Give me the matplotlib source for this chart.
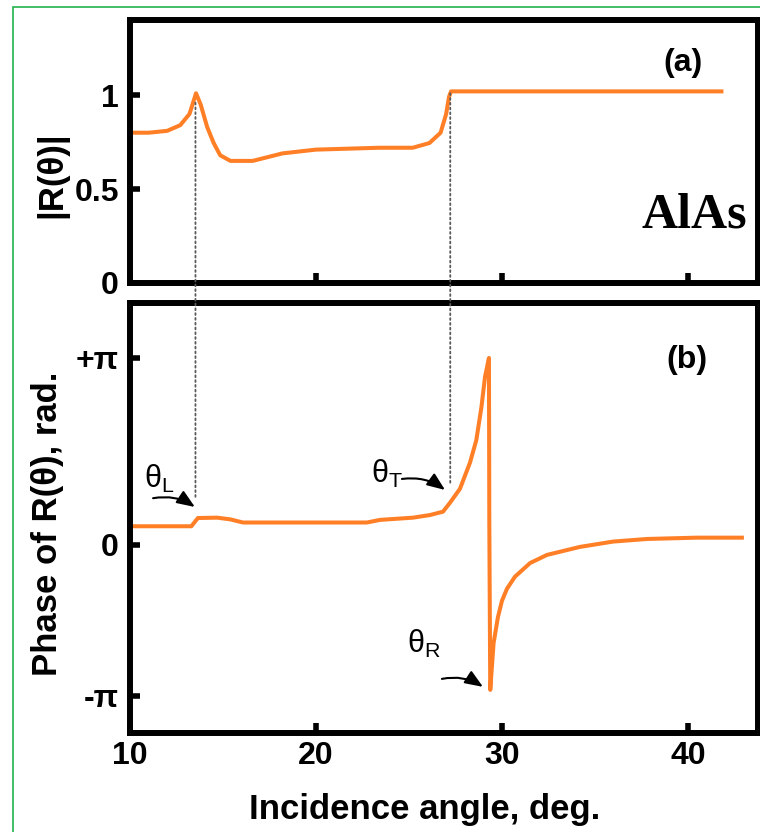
import numpy as np
import matplotlib
matplotlib.use("Agg")
import matplotlib.pyplot as plt
from matplotlib.patches import ConnectionPatch, Rectangle

plt.rcParams['font.family'] = ['Liberation Sans', 'DejaVu Sans']
plt.rcParams['font.weight'] = 'bold'
plt.rcParams['axes.labelweight'] = 'bold'

# |R(theta)|
angle_a = [10.0, 11.0, 12.0, 12.7, 13.2, 13.55, 13.8, 14.15, 14.5, 14.85, 15.4,
           16.6, 18.2, 20.0, 23.4, 25.2, 26.1, 26.7, 27.0, 27.15, 27.26, 41.8]
refl_mag = [0.80, 0.80, 0.81, 0.84, 0.90, 1.01, 0.95, 0.83, 0.745, 0.68, 0.65,
            0.65, 0.69, 0.71, 0.72, 0.72, 0.745, 0.80, 0.90, 0.99, 1.02, 1.02]

# phase of R(theta), in units of pi
angle_b = [10.0, 13.3, 13.65, 14.68, 15.38, 16.08, 22.74, 23.44, 25.22, 26.13,
           26.83, 27.2, 27.74, 28.28, 28.62, 28.9, 29.09, 29.3, 29.32, 29.37,
           29.55, 29.78, 30.0, 30.27, 30.7, 31.51, 32.42, 34.19, 35.97, 37.8,
           40.48, 42.9]
phase_pi = [0.10, 0.10, 0.144, 0.146, 0.137, 0.12, 0.12, 0.134, 0.146, 0.16,
            0.178, 0.225, 0.30, 0.44, 0.56, 0.74, 0.90, 1.0, 0.12, -0.96,
            -0.65, -0.48, -0.37, -0.29, -0.21, -0.12, -0.066, -0.013, 0.018, 0.032,
            0.039, 0.039]

theta_L, theta_T = 13.52, 27.22
xticks = [10, 20, 30, 40]

ORANGE = '#FF7F27'
SPINE_W = 4.3

fig = plt.figure(figsize=(7.6, 8.32), dpi=100)
ax1 = fig.add_axes([130 / 760, 1 - 283 / 832, 627.5 / 760, 263 / 832])
ax2 = fig.add_axes([130 / 760, 1 - 733 / 832, 627.5 / 760, 430 / 832])

for ax in (ax1, ax2):
    for sp in ax.spines.values():
        sp.set_linewidth(SPINE_W)
    ax.tick_params(direction='in', length=7, width=4, labelsize=23, top=False, right=False)
    ax.tick_params(axis='y', pad=8)
    ax.tick_params(axis='x', pad=6)
    ax.set_xlim(10, 43.74)
    ax.set_xticks(xticks)

# (a) magnitude
ax1.plot(angle_a, refl_mag, color=ORANGE, lw=2.9)
ax1.set_ylim(0, 1.40)
ax1.set_yticks([0, 0.5, 1])
ax1.set_yticklabels(['0', '0.5', '1'])
ax1.tick_params(axis='x', labelbottom=False)
ax1.set_ylabel('|R(θ)|', fontsize=25, va='center')
ax1.yaxis.set_label_coords((52 - 130) / 627.5, (283 - 175) / 263)
ax1.text(0.882, 0.836, '(a)', transform=ax1.transAxes, fontsize=23,
         ha='center', va='center')
ax1.text(0.90, 0.255, 'AlAs', transform=ax1.transAxes, fontsize=36,
         family='Liberation Serif', ha='center', va='center')

# (b) phase, the lower half of the axis is compressed as in the original
K = 151 / 187
ax2.set_yscale('function', functions=(lambda y: np.where(y < 0, y * K, y),
                                      lambda t: np.where(t < 0, t / K, t)))
ax2.plot(angle_b, np.array(phase_pi) * np.pi, color=ORANGE, lw=2.9)
ax2.set_ylim(-1.2455 * np.pi, 1.294 * np.pi)
ax2.set_yticks([-np.pi, 0, np.pi])
ax2.set_yticklabels(['-π', '0', '+π'])
ax2.set_xticklabels([str(t) for t in xticks])
ax2.set_ylabel('Phase of R(θ), rad.', fontsize=25, va='center')
ax2.yaxis.set_label_coords((47 - 130) / 627.5, (733 - 524) / 430)
ax2.set_xlabel('Incidence angle, deg.', fontsize=25, va='center')
ax2.xaxis.set_label_coords((425 - 130) / 627.5, (733 - 810) / 430)
ax2.text(0.888, 0.868, '(b)', transform=ax2.transAxes, fontsize=23,
         ha='center', va='center')

# angle markers with curved arrows
marks = [
    ('θ$_\\mathregular{L}$', (10.75, 0.305), (11.24, 0.25), (13.49, 0.203)),
    ('θ$_\\mathregular{T}$', (22.95, 0.332), (24.62, 0.353), (26.94, 0.294)),
    ('θ$_\\mathregular{R}$', (24.9, -0.715), (26.77, -0.887), (28.98, -0.94)),
]
for label, txt, tail, head in marks:
    ax2.text(txt[0], txt[1] * np.pi, label, fontsize=22, fontweight='normal',
             ha='left', va='baseline')
    ax2.annotate('', xy=(head[0], head[1] * np.pi), xytext=(tail[0], tail[1] * np.pi),
                 arrowprops=dict(arrowstyle='-|>,head_length=0.9,head_width=0.36',
                                 color='k', lw=1.5, mutation_scale=12,
                                 connectionstyle='arc3,rad=-0.2',
                                 shrinkA=0, shrinkB=0))

# dotted guides between the panels
for x, ya, yb in [(theta_L, 0.96, 0.257), (theta_T, 1.01, 0.332)]:
    con = ConnectionPatch(xyA=(x, ya), coordsA=ax1.transData,
                          xyB=(x, yb * np.pi), coordsB=ax2.transData,
                          linestyle=':', color='0.35', lw=1.3)
    fig.add_artist(con)

# thin green frame
fig.add_artist(Rectangle((12.5 / 760, -0.05), 1.2, 1.05 - 7 / 832,
                         transform=fig.transFigure, fill=False,
                         edgecolor='#22B14C', lw=1.2))

fig.savefig('out.png', dpi=100)
